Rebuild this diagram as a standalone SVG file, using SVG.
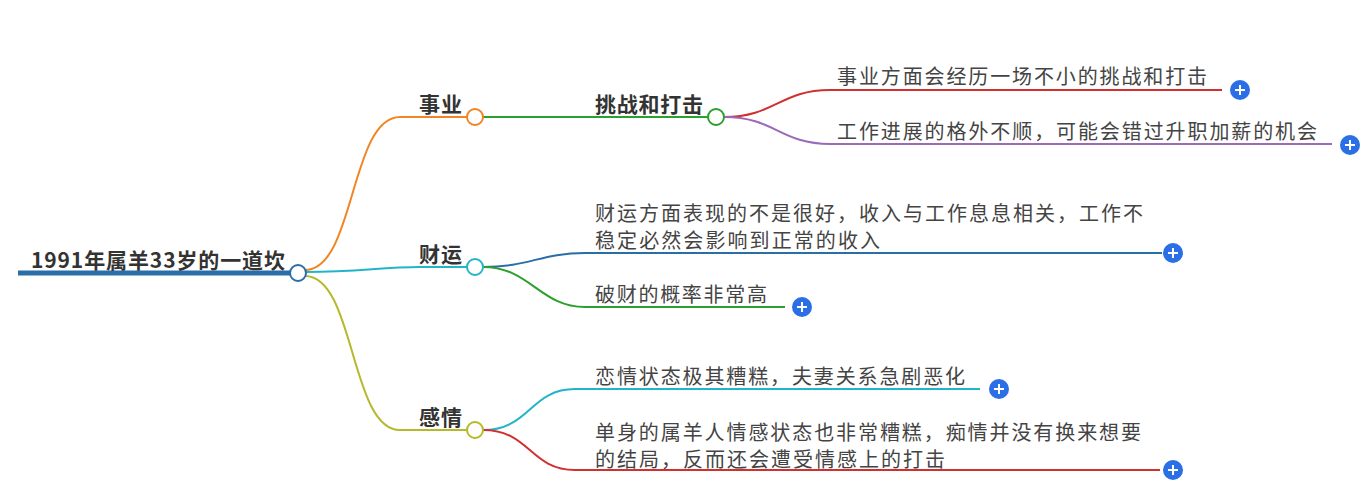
<svg xmlns="http://www.w3.org/2000/svg" width="1371" height="498" viewBox="0 0 1371 498">
<style>
.b{font-family:"Noto Sans CJK SC","Liberation Sans",sans-serif;font-weight:bold;font-size:21px;fill:#333}
.t{font-family:"Noto Sans CJK SC","Liberation Sans",sans-serif;font-size:20px;fill:#444}
.c{fill:none;stroke-width:2}
.n{fill:#fff;stroke-width:2}
.p circle{fill:#2a6fe6}
.p path{stroke:#fff;stroke-width:2;fill:none}
</style>
<rect width="1371" height="498" fill="#fff"/>
<g id="connectors">
<line x1="18" y1="273" x2="291" y2="273" stroke="#2a6ea8" stroke-width="5"/>
<path class="c" stroke="#f08522" d="M305,270 C355,270 350,117 400,117 L467,117"/>
<path class="c" stroke="#22b5c8" d="M306,272 C360,272 380,267 420,267 L467,267"/>
<path class="c" stroke="#b5b92a" d="M305,276 C355,276 350,430 400,430 L467,430"/>
<path class="c" stroke="#2ca02c" d="M483,117 L708,117"/>
<path class="c" stroke="#d03030" d="M724,117 C775,117 780,90 830,90 L1222,90"/>
<path class="c" stroke="#9b6ab8" d="M724,117 C775,117 780,144 830,144 L1332,144"/>
<path class="c" stroke="#2a6ea8" d="M483,267 C530,267 540,253 585,253 L1162,253"/>
<path class="c" stroke="#2ca02c" d="M483,267 C530,267 540,307 585,307 L785,307"/>
<path class="c" stroke="#22b5c8" d="M483,430 C530,430 530,389 575,389 L980,389"/>
<path class="c" stroke="#d03030" d="M483,430 C530,430 530,470 575,470 L1160,470"/>
</g>
<g id="root">
<text class="b" x="31" y="268" textLength="254">1991年属羊33岁的一道坎</text>
<circle class="n" cx="298" cy="273" r="8" stroke="#2a6ea8"/>
</g>
<g id="shiye">
<text class="b" x="419" y="112" textLength="43">事业</text>
<circle class="n" cx="475" cy="117" r="8" stroke="#f08522"/>
</g>
<g id="tiaozhan">
<text class="b" x="595" y="112" textLength="108">挑战和打击</text>
<circle class="n" cx="716" cy="117" r="8" stroke="#2ca02c"/>
</g>
<g id="shiye1">
<text class="t" x="837" y="84" textLength="370">事业方面会经历一场不小的挑战和打击</text>
<g class="p"><circle cx="1240" cy="90" r="10"/><path d="M1235,90 H1245 M1240,85 V95"/></g>
</g>
<g id="shiye2">
<text class="t" x="837" y="139" textLength="480">工作进展的格外不顺，可能会错过升职加薪的机会</text>
<g class="p"><circle cx="1350" cy="145" r="10"/><path d="M1345,145 H1355 M1350,140 V150"/></g>
</g>
<g id="caiyun">
<text class="b" x="419" y="262" textLength="43">财运</text>
<circle class="n" cx="475" cy="267" r="8" stroke="#22b5c8"/>
</g>
<g id="caiyun1">
<text class="t" x="595" y="221" textLength="548">财运方面表现的不是很好，收入与工作息息相关，工作不</text>
<text class="t" x="595" y="248" textLength="285">稳定必然会影响到正常的收入</text>
<g class="p"><circle cx="1173" cy="253" r="10"/><path d="M1168,253 H1178 M1173,248 V258"/></g>
</g>
<g id="caiyun2">
<text class="t" x="595" y="302" textLength="172">破财的概率非常高</text>
<g class="p"><circle cx="802" cy="307" r="10"/><path d="M797,307 H807 M802,302 V312"/></g>
</g>
<g id="ganqing">
<text class="b" x="419" y="425" textLength="43">感情</text>
<circle class="n" cx="475" cy="430" r="8" stroke="#b5b92a"/>
</g>
<g id="ganqing1">
<text class="t" x="595" y="384" textLength="370">恋情状态极其糟糕，夫妻关系急剧恶化</text>
<g class="p"><circle cx="999" cy="389" r="10"/><path d="M994,389 H1004 M999,384 V394"/></g>
</g>
<g id="ganqing2">
<text class="t" x="595" y="440" textLength="546">单身的属羊人情感状态也非常糟糕，痴情并没有换来想要</text>
<text class="t" x="595" y="467" textLength="350">的结局，反而还会遭受情感上的打击</text>
<g class="p"><circle cx="1173" cy="470" r="10"/><path d="M1168,470 H1178 M1173,465 V475"/></g>
</g>
</svg>
